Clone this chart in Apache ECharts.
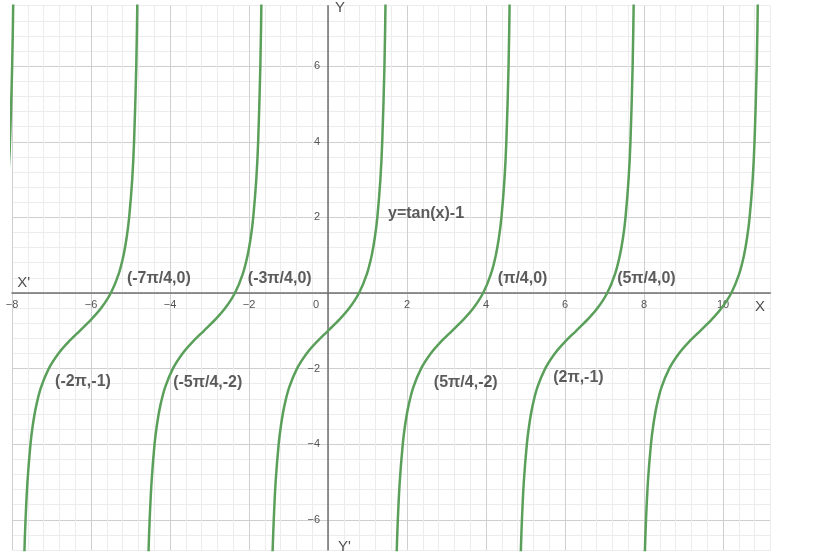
<!DOCTYPE html>
<html>
<head>
<meta charset="utf-8">
<script src="https://cdn.jsdelivr.net/npm/echarts@6/dist/echarts.min.js"></script>
<style>
html,body{margin:0;padding:0;background:#fff;}
#chart{width:831px;height:560px;}
</style>
</head>
<body>
<div id="chart"></div>
<script>
// Shared y values (tan(x)-1 read along each branch)
var branchY = [-10, -7, -6, -5, -4, -3.5, -3, -2.5, -2, -1.6, -1.3, -1, -0.7, -0.4, 0, 0.5, 1, 1.5, 2, 3, 4, 6, 8, 11];
// x positions of each branch
var branchX1 = [-7.743, -7.689, -7.657, -7.609, -7.532, -7.474, -7.390, -7.266, -7.069, -6.824, -6.575, -6.283, -5.992, -5.743, -5.498, -5.300, -5.176, -5.093, -5.034, -4.957, -4.910, -4.854, -4.823, -4.795];
var branchX2 = [-4.602, -4.547, -4.515, -4.467, -4.391, -4.332, -4.249, -4.124, -3.927, -3.682, -3.433, -3.142, -2.850, -2.601, -2.356, -2.159, -2.035, -1.951, -1.893, -1.816, -1.768, -1.713, -1.682, -1.654];
var branchX3 = [-1.460, -1.406, -1.373, -1.326, -1.249, -1.190, -1.107, -0.983, -0.785, -0.540, -0.292, 0, 0.292, 0.540, 0.785, 0.983, 1.107, 1.190, 1.249, 1.326, 1.373, 1.429, 1.460, 1.488];
var branchX4 = [1.682, 1.736, 1.768, 1.816, 1.893, 1.951, 2.035, 2.159, 2.356, 2.601, 2.850, 3.142, 3.433, 3.682, 3.927, 4.124, 4.249, 4.332, 4.391, 4.467, 4.515, 4.571, 4.602, 4.629];
var branchX5 = [4.823, 4.878, 4.910, 4.957, 5.034, 5.093, 5.176, 5.300, 5.498, 5.743, 5.992, 6.283, 6.575, 6.824, 7.069, 7.266, 7.390, 7.474, 7.532, 7.609, 7.657, 7.712, 7.743, 7.771];
var branchX6 = [7.965, 8.019, 8.051, 8.099, 8.176, 8.235, 8.318, 8.442, 8.639, 8.884, 9.133, 9.425, 9.716, 9.965, 10.210, 10.408, 10.532, 10.615, 10.674, 10.751, 10.798, 10.854, 10.885, 10.913];
// partial branch at the far left
var edgeX = [-8.176, -8.099, -8.051, -7.996, -7.965, -7.937];
var edgeY = [2, 3, 4, 6, 8, 11];

// Annotations (data coordinates of text start)
var noteText = ['(-7π/4,0)', '(-3π/4,0)', '(π/4,0)', '(5π/4,0)', '(-2π,-1)', '(-5π/4,-2)', '(5π/4,-2)', '(2π,-1)', 'y=tan(x)-1'];
var noteX = [-5.09, -2.03, 4.30, 7.32, -6.91, -3.92, 2.68, 5.70, 1.52];
var noteY = [0.37, 0.37, 0.37, 0.37, -2.35, -2.38, -2.38, -2.25, 2.09];

var axisText = ["X'", 'X', 'Y', "Y'"];
var axisTextX = [-7.87, 10.81, 0.18, 0.25];
var axisTextY = [0.26, -0.37, 7.54, -6.72];

var X_MIN = -8, X_MAX = 11.2, Y_MIN = -6.8, Y_MAX = 7.6;
var W = 831, H = 560;
var G = { left: 12, right: 60.6, top: 5.7, bottom: 10 };
var gw = W - G.left - G.right, gh = H - G.top - G.bottom;
// offsets that move each axis (line + labels) onto the other axis' zero
var xOffset = -(gh * (0 - Y_MIN) / (Y_MAX - Y_MIN));
var yOffset = -(gw * (0 - X_MIN) / (X_MAX - X_MIN));

var MAJOR = '#cfcfcf', MINOR = '#ececec';
var GREEN = '#5a9f5a';
var FONT = 'Liberation Sans, Arial, sans-serif';

function zip(xs, ys) { return xs.map(function (x, i) { return [x, ys[i]]; }); }
function isEven(v) { var r = Math.round(v); return Math.abs(v - r) < 1e-6 && r % 2 === 0; }
function fmt(v) { var r = Math.round(v); return r < 0 ? '\u2212' + (-r) : String(r); }

var branches = [zip(edgeX, edgeY), zip(branchX1, branchY), zip(branchX2, branchY), zip(branchX3, branchY),
                zip(branchX4, branchY), zip(branchX5, branchY), zip(branchX6, branchY)];

var series = branches.map(function (d) {
  return {
    type: 'line', data: d, showSymbol: false, symbol: 'none',
    smooth: 0.3, clip: true,
    lineStyle: { color: GREEN, width: 2.5 }, z: 5, silent: true
  };
});

series.push({
  type: 'scatter', symbolSize: 0, silent: true, z: 10,
  data: noteText.map(function (t, i) { return { value: [noteX[i], noteY[i]], name: t }; }),
  label: {
    show: true, position: 'right', distance: 0, formatter: '{b}',
    fontFamily: FONT, fontWeight: 'bold', fontSize: 16, color: '#333'
  }
});
series.push({
  type: 'scatter', symbolSize: 0, silent: true, z: 10,
  data: axisText.map(function (t, i) { return { value: [axisTextX[i], axisTextY[i]], name: t }; }),
  label: {
    show: true, position: 'right', distance: 0, formatter: '{b}',
    fontFamily: FONT, fontSize: 15, color: '#222'
  }
});

var chart = echarts.init(document.getElementById('chart'), null, { renderer: 'canvas' });
chart.setOption({
  animation: false,
  backgroundColor: '#fff',
  grid: { left: G.left, right: G.right, top: G.top, bottom: G.bottom, containLabel: false, outerBoundsMode: 'none' },
  xAxis: {
    type: 'value', min: X_MIN, max: X_MAX, interval: 0.4, position: 'bottom', offset: xOffset,
    axisLine: { onZero: false, lineStyle: { color: '#707070', width: 1.5 } },
    axisTick: { show: false },
    axisLabel: {
      margin: 6, fontSize: 11, color: '#555', fontFamily: FONT,
      formatter: function (v) {
        if (!isEven(v)) return '';
        if (Math.round(v) === 0) return '{z|0}';
        return fmt(v);
      },
      rich: { z: { padding: [0, 24, 0, 0], fontSize: 11, color: '#555', fontFamily: FONT } }
    },
    splitLine: { show: true, lineStyle: { color: [MAJOR, MINOR, MINOR, MINOR, MINOR], width: 1 } }
  },
  yAxis: {
    type: 'value', min: Y_MIN, max: Y_MAX, interval: 0.4, position: 'left', offset: yOffset,
    axisLine: { onZero: false, lineStyle: { color: '#707070', width: 1.5 } },
    axisTick: { show: false },
    axisLabel: {
      margin: 8, fontSize: 11, color: '#555', fontFamily: FONT,
      formatter: function (v) {
        if (!isEven(v) || Math.round(v) === 0) return '';
        return fmt(v);
      }
    },
    splitLine: { show: true, lineStyle: { color: [MINOR, MINOR, MAJOR, MINOR, MINOR], width: 1 } }
  },
  series: series
});
</script>
</body>
</html>
